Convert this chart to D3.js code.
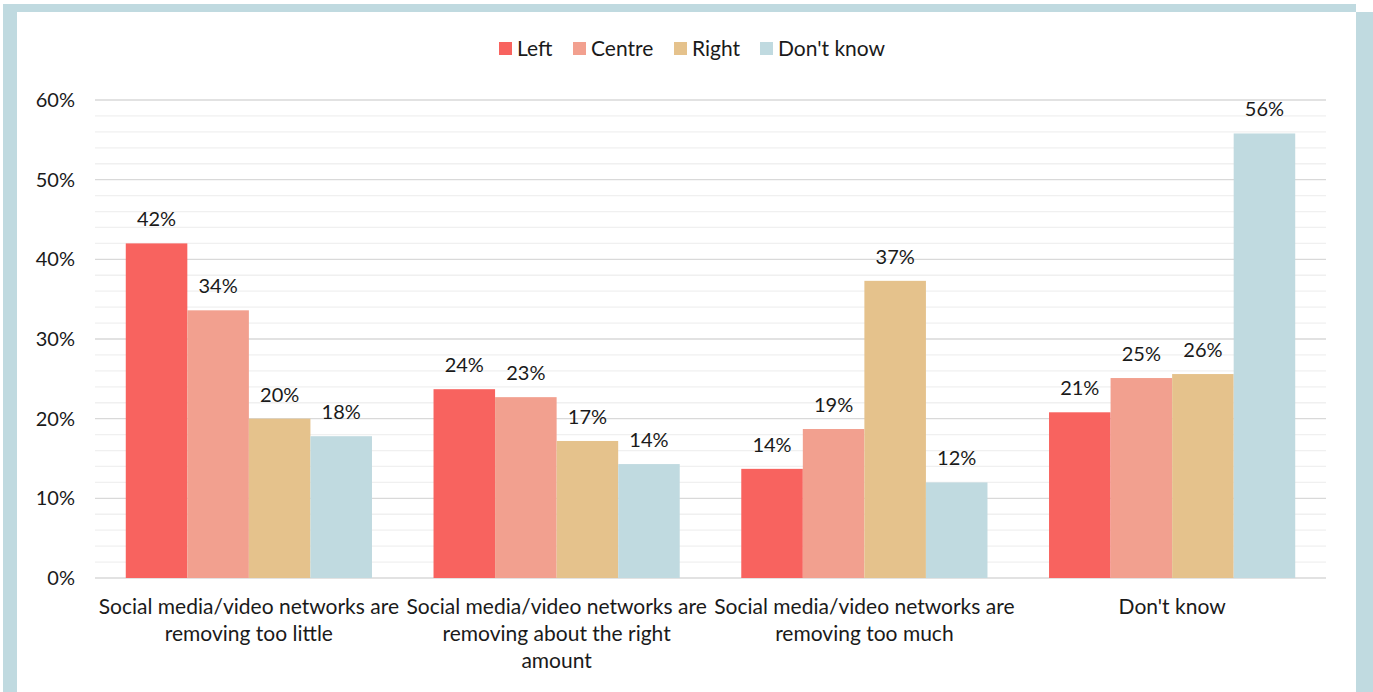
<!DOCTYPE html>
<html><head><meta charset="utf-8">
<script src="https://cdn.jsdelivr.net/npm/d3@7"></script>
<style>
html,body{margin:0;padding:0;background:#fff;}
text{font-family:Lato,"Open Sans",sans-serif;fill:#1a1a1a;}
</style></head>
<body><svg id="c" width="1373" height="692"></svg>
<script>
const categories = [
  ["Social media/video networks are", "removing too little"],
  ["Social media/video networks are", "removing about the right", "amount"],
  ["Social media/video networks are", "removing too much"],
  ["Don't know"]
];
const seriesNames = ["Left", "Centre", "Right", "Don't know"];
const seriesColors = ["#f8635f", "#f2a08f", "#e5c28c", "#c0dae0"];
const leftVals   = [42, 23.7, 13.7, 20.8];
const centreVals = [33.6, 22.7, 18.7, 25.1];
const rightVals  = [20.0, 17.2, 37.3, 25.6];
const dkVals     = [17.8, 14.3, 12.0, 55.8];
const yTicks = [0, 10, 20, 30, 40, 50, 60];

const series = [leftVals, centreVals, rightVals, dkVals];
const svg = d3.select("#c");

// frame
svg.append("rect").attr("x",3).attr("y",4).attr("width",1353).attr("height",8).attr("fill","#c0dae0");
svg.append("rect").attr("x",3).attr("y",4).attr("width",14).attr("height",688).attr("fill","#c0dae0");
svg.append("rect").attr("x",1356).attr("y",12).attr("width",17).attr("height",680).attr("fill","#c0dae0");

const x0 = d3.scaleBand().domain(d3.range(categories.length)).range([95, 1326]).paddingInner(0).paddingOuter(0);
const x1 = d3.scaleBand().domain(d3.range(series.length)).range([0, x0.bandwidth()]).paddingOuter(0.5).paddingInner(0);
const y = d3.scaleLinear().domain([0, 60]).range([578, 100]);

// minor grid
const minor = d3.range(0, 61, 2).filter(v => v % 10 !== 0);
svg.append("g").selectAll("line").data(minor).join("line")
  .attr("x1",95).attr("x2",1326).attr("y1",d=>y(d)).attr("y2",d=>y(d))
  .attr("stroke","#f0f0f0").attr("stroke-width",1.3);
// major grid
svg.append("g").selectAll("line").data(yTicks).join("line")
  .attr("x1",95).attr("x2",1326).attr("y1",d=>y(d)).attr("y2",d=>y(d))
  .attr("stroke","#d9d9d9").attr("stroke-width",1.3);

// y axis labels
const yAxis = d3.axisLeft(y).tickValues(yTicks).tickFormat(d=>d+"%").tickSize(0).tickPadding(0);
const ya = svg.append("g").attr("transform","translate(75,0)").call(yAxis);
ya.select(".domain").remove();
ya.selectAll("text").attr("font-size",20).attr("fill","#1a1a1a").style("font-family","Lato,'Open Sans',sans-serif");

// bars
const groups = svg.append("g").selectAll("g").data(categories).join("g")
  .attr("transform",(d,i)=>`translate(${x0(i)},0)`);
groups.each(function(cat, ci){
  const g = d3.select(this);
  series.forEach((s, si) => {
    g.append("rect").attr("x", x1(si)).attr("width", x1.bandwidth())
      .attr("y", y(s[ci])).attr("height", y(0) - y(s[ci])).attr("fill", seriesColors[si]);
    g.append("text").attr("x", x1(si) + x1.bandwidth()/2).attr("y", y(s[ci]) - 17)
      .attr("text-anchor","middle").attr("font-size",20).text(Math.round(s[ci]) + "%");
  });
  const t = g.append("text").attr("x", x0.bandwidth()/2).attr("y", 614).attr("text-anchor","middle").attr("font-size",21);
  cat.forEach((line, li) => {
    t.append("tspan").attr("x", x0.bandwidth()/2).attr("dy", li === 0 ? 0 : 27).text(line);
  });
});

// legend
const legendX = [499, 573, 674, 760];
const lg = svg.append("g");
seriesNames.forEach((n, i) => {
  lg.append("rect").attr("x", legendX[i]).attr("y", 42).attr("width", 13).attr("height", 13).attr("fill", seriesColors[i]);
  lg.append("text").attr("x", legendX[i] + 18).attr("y", 56).attr("font-size", 21).text(n);
});
</script></body></html>
